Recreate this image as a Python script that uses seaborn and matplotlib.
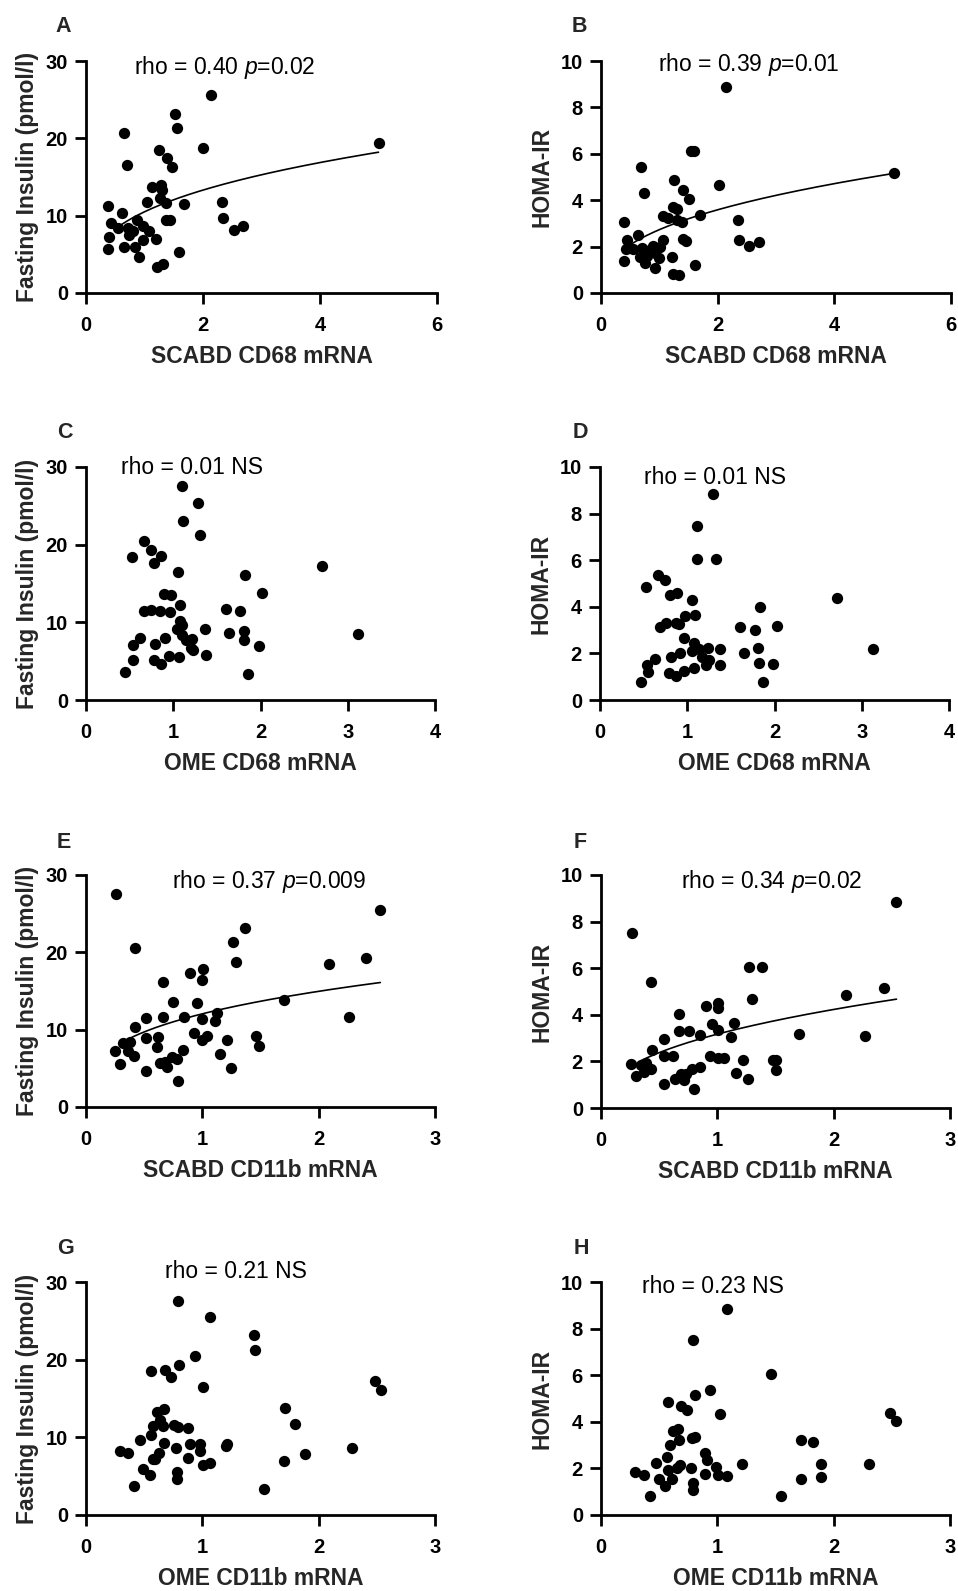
import numpy as np
import pandas as pd
import matplotlib
matplotlib.use("Agg")
import matplotlib.pyplot as plt
import seaborn as sns

# ---- data ----
A_x = [0.37, 0.43, 0.40, 0.37, 0.54, 0.62, 0.65, 0.70, 0.65, 0.71, 0.74, 0.80, 0.84, 0.91, 0.88,
       0.97, 0.98, 1.07, 1.05, 1.12, 1.20, 1.21, 1.32, 1.24, 1.26, 1.28, 1.30, 1.38, 1.37, 1.37,
       1.43, 1.47, 1.52, 1.56, 1.59, 1.68, 2.00, 2.13, 2.32, 2.35, 2.53, 2.68, 5.00]
A_y = [11.3, 9.1, 7.3, 5.7, 8.4, 10.3, 20.7, 16.6, 5.9, 8.4, 7.5, 8.0, 6.0, 4.6, 9.5,
       8.6, 6.8, 8.0, 11.8, 13.7, 7.0, 3.4, 3.7, 18.5, 12.3, 14.0, 13.3, 17.4, 11.6, 9.4,
       9.4, 16.3, 23.2, 21.4, 5.3, 11.5, 18.7, 25.6, 11.8, 9.7, 8.1, 8.7, 19.4]

B_x = [0.39, 0.39, 0.44, 0.43, 0.54, 0.63, 0.68, 0.73, 0.66, 0.71, 0.75, 0.79, 0.84, 0.89, 0.93,
       0.93, 1.00, 1.01, 1.07, 1.07, 1.15, 1.21, 1.23, 1.34, 1.24, 1.31, 1.25, 1.30, 1.38, 1.40,
       1.40, 1.45, 1.50, 1.54, 1.59, 1.61, 1.70, 2.02, 2.15, 2.34, 2.37, 2.54, 2.70, 5.03]
B_y = [3.08, 1.39, 2.27, 1.89, 1.89, 2.51, 5.41, 4.33, 1.55, 1.94, 1.29, 1.58, 1.84, 2.01, 1.08,
       1.72, 1.51, 1.98, 2.27, 3.33, 3.23, 1.55, 0.83, 0.79, 3.70, 3.62, 4.85, 3.16, 3.04, 4.42,
       2.32, 2.22, 4.05, 6.13, 6.10, 1.19, 3.37, 4.66, 8.87, 3.16, 2.27, 2.04, 2.18, 5.17]

C_x = [0.45, 0.54, 0.54, 0.53, 0.62, 0.66, 0.67, 0.75, 0.74, 0.78, 0.79, 0.78, 0.86, 0.85, 0.86,
       0.89, 0.91, 0.95, 0.97, 0.96, 1.05, 1.08, 1.08, 1.04, 1.10, 1.10, 1.07, 1.10, 1.11, 1.15,
       1.21, 1.20, 1.23, 1.28, 1.31, 1.36, 1.37, 1.60, 1.64, 1.77, 1.81, 1.81, 1.82, 1.86, 1.98,
       2.02, 2.71, 3.12]
C_y = [3.6, 5.1, 7.1, 18.4, 8.0, 20.5, 11.5, 11.6, 19.3, 17.7, 7.2, 5.2, 18.6, 11.4, 4.6,
       13.6, 8.0, 5.7, 13.5, 11.3, 16.5, 12.2, 10.2, 9.2, 9.6, 8.4, 5.6, 27.6, 23.1, 7.7,
       7.8, 6.7, 6.5, 25.4, 21.2, 9.2, 5.8, 11.7, 8.6, 11.5, 8.9, 7.7, 16.1, 3.4, 6.9,
       13.8, 17.3, 8.5]

D_x = [0.47, 0.54, 0.55, 0.53, 0.63, 0.67, 0.69, 0.76, 0.75, 0.80, 0.81, 0.79, 0.87, 0.88, 0.87,
       0.91, 0.92, 0.96, 0.97, 0.96, 1.05, 1.09, 1.08, 1.06, 1.08, 1.11, 1.11, 1.13, 1.17, 1.21,
       1.25, 1.24, 1.29, 1.33, 1.37, 1.38, 1.60, 1.65, 1.78, 1.83, 1.81, 1.82, 1.87, 1.98, 2.03,
       2.72, 3.13]
D_y = [0.79, 1.50, 1.22, 4.83, 1.75, 5.37, 3.12, 3.32, 5.13, 4.51, 1.86, 1.17, 3.32, 4.61, 1.03,
       3.27, 2.01, 1.26, 3.61, 2.65, 4.30, 3.65, 2.46, 2.12, 1.36, 7.48, 6.06, 2.18, 1.86, 1.50,
       1.72, 2.22, 8.84, 6.05, 2.19, 1.50, 3.12, 2.03, 3.01, 4.01, 2.22, 1.60, 0.79, 1.53, 3.18,
       4.37, 2.18]

E_x = [0.25, 0.26, 0.29, 0.32, 0.36, 0.38, 0.41, 0.42, 0.42, 0.52, 0.52, 0.52, 0.61, 0.62, 0.64,
       0.66, 0.66, 0.68, 0.70, 0.74, 0.75, 0.78, 0.79, 0.83, 0.84, 0.89, 0.93, 0.95, 1.00, 1.00,
       1.01, 1.00, 1.04, 1.11, 1.13, 1.15, 1.21, 1.25, 1.26, 1.29, 1.37, 1.46, 1.49, 1.70, 2.09,
       2.26, 2.41, 2.53]
E_y = [7.3, 27.6, 5.6, 8.3, 7.2, 8.4, 6.6, 10.3, 20.5, 11.5, 8.9, 4.6, 7.8, 9.1, 5.7,
       11.6, 16.1, 5.8, 5.2, 6.5, 13.6, 6.2, 3.3, 7.4, 11.6, 17.3, 9.6, 13.4, 11.4, 8.6,
       17.8, 16.4, 9.2, 11.1, 12.2, 6.9, 8.6, 5.0, 21.3, 18.7, 23.1, 9.2, 7.9, 13.8, 18.5,
       11.6, 19.3, 25.5]

F_x = [0.255, 0.27, 0.30, 0.34, 0.37, 0.39, 0.43, 0.44, 0.43, 0.54, 0.54, 0.54, 0.62, 0.64, 0.67,
       0.67, 0.69, 0.71, 0.73, 0.76, 0.78, 0.80, 0.85, 0.85, 0.90, 0.94, 0.95, 1.01, 1.01, 1.01,
       1.01, 1.06, 1.12, 1.14, 1.16, 1.22, 1.26, 1.27, 1.30, 1.38, 1.48, 1.50, 1.50, 1.70, 2.11,
       2.27, 2.43, 2.54]
F_y = [1.88, 7.52, 1.36, 1.83, 1.55, 1.93, 1.69, 2.48, 5.39, 2.98, 2.22, 1.05, 2.22, 1.26, 3.31,
       4.03, 1.48, 1.19, 1.48, 3.31, 1.69, 0.80, 1.76, 3.12, 4.37, 2.22, 3.62, 3.34, 4.51, 4.31,
       2.16, 2.16, 3.05, 3.65, 1.52, 2.05, 1.26, 6.06, 4.66, 6.06, 2.05, 2.05, 1.62, 3.19, 4.84,
       3.09, 5.16, 8.85]

G_x = [0.29, 0.36, 0.41, 0.46, 0.49, 0.55, 0.56, 0.56, 0.58, 0.59, 0.58, 0.61, 0.63, 0.64, 0.66,
       0.67, 0.67, 0.68, 0.73, 0.76, 0.77, 0.78, 0.78, 0.79, 0.79, 0.80, 0.88, 0.88, 0.89, 0.94,
       0.98, 0.98, 1.01, 1.01, 1.07, 1.07, 1.20, 1.21, 1.44, 1.45, 1.53, 1.70, 1.71, 1.80, 1.88,
       2.29, 2.48, 2.54]
G_y = [8.2, 8.0, 3.7, 9.6, 5.9, 5.2, 10.3, 18.5, 7.2, 7.2, 11.5, 13.3, 8.0, 12.2, 11.5,
       13.6, 9.3, 18.7, 17.8, 11.6, 8.6, 5.6, 4.6, 27.6, 11.3, 19.3, 11.2, 7.4, 9.2, 20.5,
       9.2, 8.3, 16.5, 6.4, 6.7, 25.5, 8.9, 9.2, 23.2, 21.3, 3.4, 6.9, 13.8, 11.7, 7.8,
       8.6, 17.3, 16.1]

H_x = [0.29, 0.37, 0.42, 0.47, 0.50, 0.55, 0.57, 0.58, 0.58, 0.61, 0.59, 0.62, 0.66, 0.65, 0.67,
       0.68, 0.69, 0.74, 0.77, 0.78, 0.79, 0.79, 0.79, 0.81, 0.81, 0.89, 0.89, 0.91, 0.94, 0.99,
       1.01, 1.02, 1.08, 1.08, 1.21, 1.46, 1.55, 1.72, 1.72, 1.82, 1.89, 1.89, 2.30, 2.48, 2.54]
H_y = [1.85, 1.73, 0.80, 2.23, 1.55, 1.23, 2.47, 4.84, 1.95, 1.55, 2.99, 3.62, 3.69, 2.02, 3.23,
       2.16, 4.66, 4.52, 2.02, 3.30, 7.50, 1.37, 1.06, 3.33, 5.16, 2.66, 1.77, 2.35, 5.38, 2.06,
       1.73, 4.33, 8.84, 1.69, 2.20, 6.07, 0.83, 1.55, 3.20, 3.12, 2.20, 1.63, 2.19, 4.38, 4.02]

# power-curve fits y = a * x**b, drawn between x_start and x_end
FIT_A = (10.5, 0.342, 0.61, 5.00)
FIT_B = (2.73, 0.394, 0.51, 5.03)
FIT_E = (12.05, 0.312, 0.36, 2.53)
FIT_F = (3.17, 0.416, 0.34, 2.54)

LABELS = ["A", "B", "C", "D", "E", "F", "G", "H"]
XLABELS = ["SCABD CD68 mRNA", "SCABD CD68 mRNA", "OME CD68 mRNA", "OME CD68 mRNA",
           "SCABD CD11b mRNA", "SCABD CD11b mRNA", "OME CD11b mRNA", "OME CD11b mRNA"]
STATS = [r"rho = 0.40 $\mathit{p}$=0.02", r"rho = 0.39 $\mathit{p}$=0.01",
         "rho = 0.01 NS", "rho = 0.01 NS",
         r"rho = 0.37 $\mathit{p}$=0.009", r"rho = 0.34 $\mathit{p}$=0.02",
         "rho = 0.21 NS", "rho = 0.23 NS"]

# ---- style ----
sns.set_style("ticks")
plt.rcParams["font.family"] = ["Liberation Sans", "DejaVu Sans"]
plt.rcParams["mathtext.fontset"] = "custom"
plt.rcParams["mathtext.rm"] = "Liberation Sans"
plt.rcParams["mathtext.it"] = "Liberation Sans:italic"

fig = plt.figure(figsize=(9.58, 15.91), dpi=100)
W, H = 958, 1591

# axes boxes in pixels: left, top, right, bottom
boxes = [
    (86, 61, 437, 293), (601, 61, 951, 293),
    (86, 467, 435, 700), (600, 467, 949, 700),
    (86, 875, 435, 1107), (601, 875, 950, 1108),
    (86, 1282, 435, 1515), (601, 1282, 950, 1515),
]
stat_pos = [(0.137, 0.974), (0.162, 0.983), (0.099, 0.996), (0.126, 0.957),
            (0.246, 0.971), (0.228, 0.971), (0.226, 1.046), (0.117, 0.981)]
letter_pos = [(55, 27), (572, 27), (57, 433), (573, 433),
              (57, 842), (574, 842), (57, 1248), (574, 1248)]

panels = [(A_x, A_y, FIT_A), (B_x, B_y, FIT_B), (C_x, C_y, None), (D_x, D_y, None),
          (E_x, E_y, FIT_E), (F_x, F_y, FIT_F), (G_x, G_y, None), (H_x, H_y, None)]
xmax = [6, 6, 4, 4, 3, 3, 3, 3]

for i, (xs, ys, fit) in enumerate(panels):
    l, t, r, b = boxes[i]
    ax = fig.add_axes([l / W, 1 - b / H, (r - l) / W, (b - t) / H])
    df = pd.DataFrame({"x": xs, "y": ys})
    sns.scatterplot(data=df, x="x", y="y", ax=ax, color="black", s=66,
                    edgecolor="black", linewidth=0, clip_on=False, zorder=3)
    if fit is not None:
        a, bexp, x0, x1 = fit
        xf = np.linspace(x0, x1, 200)
        sns.lineplot(x=xf, y=a * xf ** bexp, ax=ax, color="black", linewidth=1.2)

    homa = i % 2 == 1
    ax.set_xlim(0, xmax[i])
    if xmax[i] == 6:
        ax.set_xticks([0, 2, 4, 6])
    else:
        ax.set_xticks(range(0, xmax[i] + 1))
    if homa:
        ax.set_ylim(0, 10)
        ax.set_yticks([0, 2, 4, 6, 8, 10])
        ax.set_ylabel("HOMA-IR", fontsize=16.5, fontweight="bold")
    else:
        ax.set_ylim(0, 30)
        ax.set_yticks([0, 10, 20, 30])
        ax.set_ylabel("Fasting Insulin (pmol/l)", fontsize=16.5, fontweight="bold")
    ax.set_xlabel(XLABELS[i], fontsize=16.5, fontweight="bold")
    ax.yaxis.set_label_coords(-0.168, 0.5)
    ax.yaxis.label.set_va("center")
    ax.xaxis.set_label_coords(0.5, -0.272)
    ax.xaxis.label.set_va("center")

    sns.despine(ax=ax)
    for side in ["left", "bottom"]:
        ax.spines[side].set_linewidth(2.0)
        ax.spines[side].set_color("black")
    ax.tick_params(axis="both", direction="out", length=8, width=2.0,
                   labelsize=14.5, colors="black")
    ax.tick_params(axis="x", pad=8.5)
    ax.tick_params(axis="y", pad=5)
    for lab in ax.get_xticklabels() + ax.get_yticklabels():
        lab.set_fontweight("bold")

    ax.text(stat_pos[i][0], stat_pos[i][1], STATS[i], transform=ax.transAxes,
            fontsize=16.5, ha="left", va="center", color="black")

    lx, ly = letter_pos[i]
    fig.text(lx / W, 1 - ly / H, LABELS[i], fontsize=15.5, fontweight="bold",
             ha="left", va="center")

fig.savefig("out.png", dpi=100, facecolor="white")
